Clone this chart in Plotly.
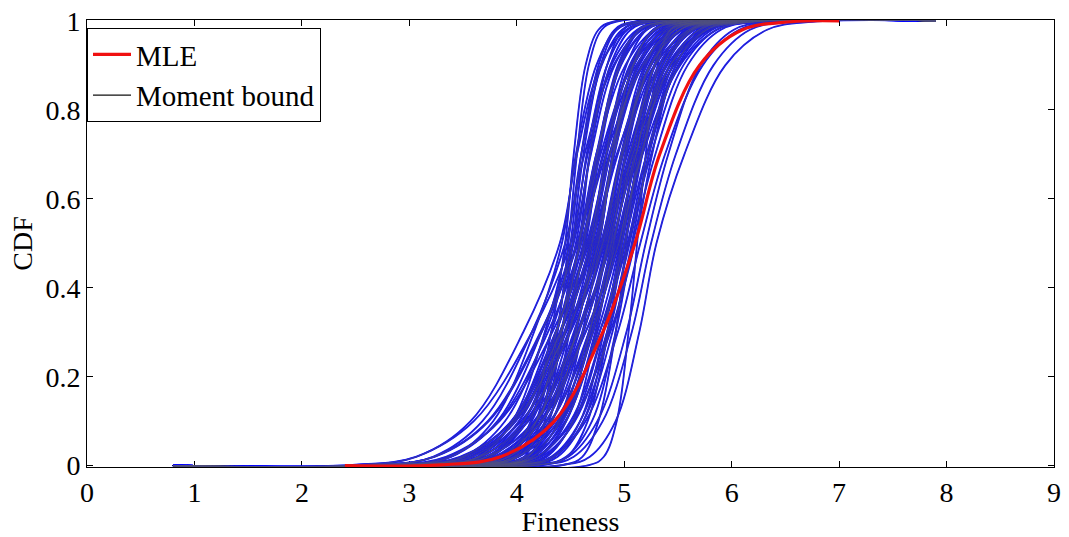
import plotly.graph_objects as go

CDF_LEVELS = [0.002, 0.02, 0.1, 0.3, 0.5, 0.7, 0.9, 0.98, 0.998]
BOUND_START = 0.8
BOUND_END = 7.9

# x position (fineness) of every moment-bound curve at each CDF level
Q002 = [3.90, 3.94, 3.72, 3.71, 4.68, 4.44, 2.51, 2.71, 2.47, 2.86,
        3.17, 3.05, 3.37, 3.25, 2.98, 3.59, 3.18, 3.49, 3.37, 3.83,
        3.14, 3.59, 3.76, 3.50, 3.96, 3.69, 3.89, 4.21, 3.99, 4.18,
        4.23, 4.43, 3.24, 3.42, 3.61, 2.78, 3.54, 3.29, 3.90, 2.91,
        3.67, 3.26, 4.03, 3.33, 3.80, 4.13, 3.58, 4.05, 3.29, 3.71,
        3.54, 3.21, 2.92, 3.89, 3.02, 3.86, 4.25, 3.79, 2.97, 2.68,
        3.31, 3.08, 3.33, 3.09, 3.84, 3.63, 3.07, 3.97, 3.42, 3.89,
        3.63, 4.10, 3.85, 4.02, 3.21, 3.57, 3.45, 3.73, 3.77, 2.67]
Q02 = [4.07, 4.11, 3.94, 3.96, 4.81, 4.61, 3.07, 3.22, 3.06, 3.37,
       3.59, 3.52, 3.76, 3.67, 3.49, 3.93, 3.65, 3.88, 3.79, 4.13,
       3.65, 3.98, 4.10, 3.92, 4.26, 4.08, 4.23, 4.46, 4.33, 4.48,
       4.53, 4.68, 3.63, 3.76, 3.91, 3.34, 3.88, 3.71, 4.15, 3.47,
       4.01, 3.73, 4.28, 3.80, 4.14, 4.38, 4.00, 4.35, 3.68, 4.01,
       3.93, 3.72, 3.39, 4.11, 3.53, 4.16, 4.47, 4.18, 3.39, 3.24,
       3.65, 3.50, 3.72, 3.56, 4.09, 3.97, 3.58, 4.22, 3.84, 4.19,
       4.02, 4.35, 4.19, 4.32, 3.63, 3.87, 3.84, 4.07, 3.99, 3.23]
Q10 = [4.22, 4.26, 4.13, 4.20, 4.93, 4.76, 3.57, 3.68, 3.60, 3.83,
       3.98, 3.95, 4.10, 4.06, 3.95, 4.24, 4.08, 4.22, 4.18, 4.40,
       4.11, 4.32, 4.41, 4.31, 4.53, 4.42, 4.54, 4.70, 4.64, 4.75,
       4.80, 4.92, 3.97, 4.07, 4.18, 3.84, 4.19, 4.10, 4.39, 3.97,
       4.32, 4.16, 4.52, 4.23, 4.45, 4.62, 4.39, 4.62, 4.02, 4.28,
       4.27, 4.18, 3.82, 4.30, 3.99, 4.43, 4.66, 4.52, 3.78, 3.74,
       3.96, 3.89, 4.06, 3.99, 4.33, 4.28, 4.04, 4.46, 4.23, 4.46,
       4.36, 4.59, 4.50, 4.59, 4.02, 4.14, 4.18, 4.38, 4.18, 3.73]
Q30 = [4.38, 4.42, 4.32, 4.42, 5.04, 4.92, 4.06, 4.14, 4.14, 4.29,
       4.36, 4.36, 4.45, 4.44, 4.41, 4.54, 4.49, 4.57, 4.56, 4.67,
       4.57, 4.67, 4.71, 4.69, 4.80, 4.77, 4.84, 4.92, 4.94, 5.02,
       5.07, 5.14, 4.32, 4.37, 4.45, 4.33, 4.49, 4.48, 4.61, 4.46,
       4.62, 4.57, 4.74, 4.64, 4.75, 4.84, 4.77, 4.89, 4.37, 4.55,
       4.62, 4.64, 4.23, 4.49, 4.45, 4.70, 4.85, 4.87, 4.16, 4.23,
       4.26, 4.27, 4.41, 4.40, 4.55, 4.58, 4.50, 4.68, 4.61, 4.73,
       4.71, 4.81, 4.80, 4.86, 4.40, 4.41, 4.53, 4.68, 4.37, 4.22]
Q50 = [4.48, 4.52, 4.45, 4.58, 5.12, 5.02, 4.40, 4.45, 4.50, 4.60,
       4.62, 4.65, 4.68, 4.70, 4.72, 4.75, 4.78, 4.80, 4.82, 4.85,
       4.88, 4.90, 4.92, 4.95, 4.98, 5.00, 5.05, 5.08, 5.15, 5.20,
       5.25, 5.30, 4.55, 4.58, 4.63, 4.67, 4.70, 4.74, 4.77, 4.80,
       4.83, 4.86, 4.90, 4.93, 4.96, 5.00, 5.03, 5.07, 4.60, 4.73,
       4.85, 4.95, 4.52, 4.62, 4.76, 4.88, 4.98, 5.10, 4.42, 4.57,
       4.47, 4.53, 4.64, 4.69, 4.71, 4.79, 4.81, 4.84, 4.87, 4.91,
       4.94, 4.97, 5.01, 5.04, 4.66, 4.59, 4.76, 4.89, 4.50, 4.56]
Q70 = [4.56, 4.62, 4.53, 4.68, 5.20, 5.12, 4.56, 4.63, 4.66, 4.81,
       4.80, 4.86, 4.84, 4.93, 4.90, 4.91, 4.99, 4.98, 5.03, 5.01,
       5.11, 5.08, 5.13, 5.11, 5.16, 5.21, 5.23, 5.29, 5.38, 5.41,
       5.48, 5.56, 4.68, 4.74, 4.76, 4.83, 4.83, 4.90, 4.90, 4.98,
       4.99, 5.02, 5.06, 5.11, 5.09, 5.16, 5.21, 5.23, 4.83, 4.94,
       5.08, 5.16, 4.65, 4.75, 4.89, 5.01, 5.14, 5.26, 4.55, 4.78,
       4.60, 4.69, 4.77, 4.87, 4.87, 4.97, 4.97, 5.05, 5.05, 5.07,
       5.17, 5.15, 5.17, 5.25, 4.87, 4.75, 4.89, 5.10, 4.60, 4.74]
Q90 = [4.67, 4.78, 4.64, 4.84, 5.31, 5.28, 4.78, 4.90, 4.88, 5.11,
       5.07, 5.16, 5.06, 5.28, 5.17, 5.13, 5.29, 5.25, 5.33, 5.23,
       5.46, 5.35, 5.43, 5.33, 5.43, 5.51, 5.50, 5.59, 5.73, 5.71,
       5.83, 5.94, 4.87, 4.96, 4.95, 5.05, 5.02, 5.12, 5.09, 5.25,
       5.21, 5.24, 5.28, 5.38, 5.28, 5.38, 5.48, 5.45, 5.18, 5.24,
       5.43, 5.46, 4.84, 4.94, 5.08, 5.20, 5.36, 5.48, 4.74, 5.08,
       4.79, 4.91, 4.96, 5.14, 5.09, 5.24, 5.19, 5.35, 5.32, 5.29,
       5.52, 5.42, 5.39, 5.55, 5.17, 4.97, 5.08, 5.40, 4.76, 5.01]
Q98 = [4.79, 4.93, 4.76, 4.99, 5.43, 5.43, 5.02, 5.17, 5.12, 5.42,
       5.34, 5.47, 5.30, 5.62, 5.44, 5.37, 5.60, 5.52, 5.64, 5.47,
       5.80, 5.62, 5.74, 5.57, 5.70, 5.82, 5.77, 5.90, 6.07, 6.02,
       6.17, 6.33, 5.06, 5.20, 5.14, 5.29, 5.21, 5.36, 5.28, 5.52,
       5.45, 5.48, 5.52, 5.65, 5.47, 5.62, 5.75, 5.69, 5.52, 5.55,
       5.77, 5.77, 5.03, 5.13, 5.27, 5.39, 5.60, 5.72, 4.93, 5.39,
       4.98, 5.15, 5.15, 5.41, 5.33, 5.51, 5.43, 5.66, 5.59, 5.53,
       5.86, 5.69, 5.63, 5.86, 5.48, 5.21, 5.27, 5.71, 4.91, 5.28]
Q998 = [4.92, 5.10, 4.89, 5.16, 5.56, 5.60, 5.27, 5.47, 5.37, 5.76,
        5.64, 5.81, 5.55, 6.01, 5.74, 5.62, 5.94, 5.82, 5.98, 5.72,
        6.19, 5.92, 6.08, 5.82, 6.00, 6.16, 6.07, 6.24, 6.46, 6.36,
        6.56, 6.75, 5.28, 5.45, 5.36, 5.54, 5.43, 5.61, 5.50, 5.82,
        5.70, 5.73, 5.77, 5.95, 5.69, 5.87, 6.05, 5.94, 5.91, 5.89,
        6.16, 6.11, 5.25, 5.35, 5.49, 5.61, 5.85, 5.97, 5.15, 5.73,
        5.20, 5.40, 5.37, 5.71, 5.58, 5.81, 5.68, 6.00, 5.89, 5.78,
        6.25, 5.99, 5.88, 6.20, 5.82, 5.46, 5.49, 6.05, 5.08, 5.58]

# MLE curve
MLE_X = [2.4, 3.30, 3.85, 4.35, 4.80, 5.10, 5.33, 5.70, 6.10, 6.55, 7.0]
MLE_Y = [0, 0.002, 0.02, 0.1, 0.3, 0.5, 0.7, 0.9, 0.98, 0.998, 1]

FONT = "Liberation Serif"

quantiles = [Q002, Q02, Q10, Q30, Q50, Q70, Q90, Q98, Q998]
bx, by = [], []
for i in range(len(Q50)):
    bx += [BOUND_START] + [q[i] for q in quantiles] + [BOUND_END, None]
    by += [0] + CDF_LEVELS + [1, None]

fig = go.Figure()

# blue body of the moment-bound curves
fig.add_trace(go.Scatter(
    x=bx, y=by, mode="lines", showlegend=False, hoverinfo="skip",
    line=dict(color="#0a0aff", width=1.8, shape="spline"),
))
# thin dark core of the same curves
fig.add_trace(go.Scatter(
    x=bx, y=by, mode="lines", showlegend=False, hoverinfo="skip",
    line=dict(color="#50507e", width=0.5, shape="spline"),
))
fig.add_trace(go.Scatter(
    x=MLE_X, y=MLE_Y, mode="lines", name="MLE", legendrank=1,
    line=dict(color="#f01010", width=3.2, shape="spline"),
))
# legend key for the moment-bound family
fig.add_trace(go.Scatter(
    x=[None], y=[None], mode="lines", name="Moment bound", legendrank=2,
    line=dict(color="#101010", width=1.2),
))

axis_style = dict(
    showline=True, linecolor="black", linewidth=1, mirror="ticks",
    ticks="inside", ticklen=6, tickcolor="black", showgrid=False,
    zeroline=False, layer="below traces", automargin=False,
    ticklabeloverflow="allow",
    tickfont=dict(family=FONT, size=28, color="black"),
)

fig.update_xaxes(
    range=[0, 9], tickvals=list(range(10)),
    title=dict(text="Fineness", font=dict(family=FONT, size=28, color="black"),
               standoff=0),
    **axis_style,
)
fig.update_yaxes(
    range=[-0.003, 1.002], tickvals=[0, 0.2, 0.4, 0.6, 0.8, 1],
    ticktext=["0", "0.2", "0.4", "0.6", "0.8", "1"],
    title=dict(text="CDF", font=dict(family=FONT, size=28, color="black"),
               standoff=4),
    **axis_style,
)

fig.update_layout(
    width=1069, height=537,
    margin=dict(l=87, r=15, t=20, b=70),
    paper_bgcolor="white", plot_bgcolor="white",
    font=dict(family=FONT, size=28, color="black"),
    legend=dict(
        x=0, y=0.982, xanchor="left", yanchor="top",
        bgcolor="white", bordercolor="black", borderwidth=1,
        font=dict(family=FONT, size=29, color="black"),
        tracegroupgap=0, itemwidth=38,
    ),
)

# drop the page's default body margin so the figure sits at the window corner
fig.write_html(
    "out.html",
    config={"displayModeBar": False},
    post_script="document.body.style.margin = '0';",
)
